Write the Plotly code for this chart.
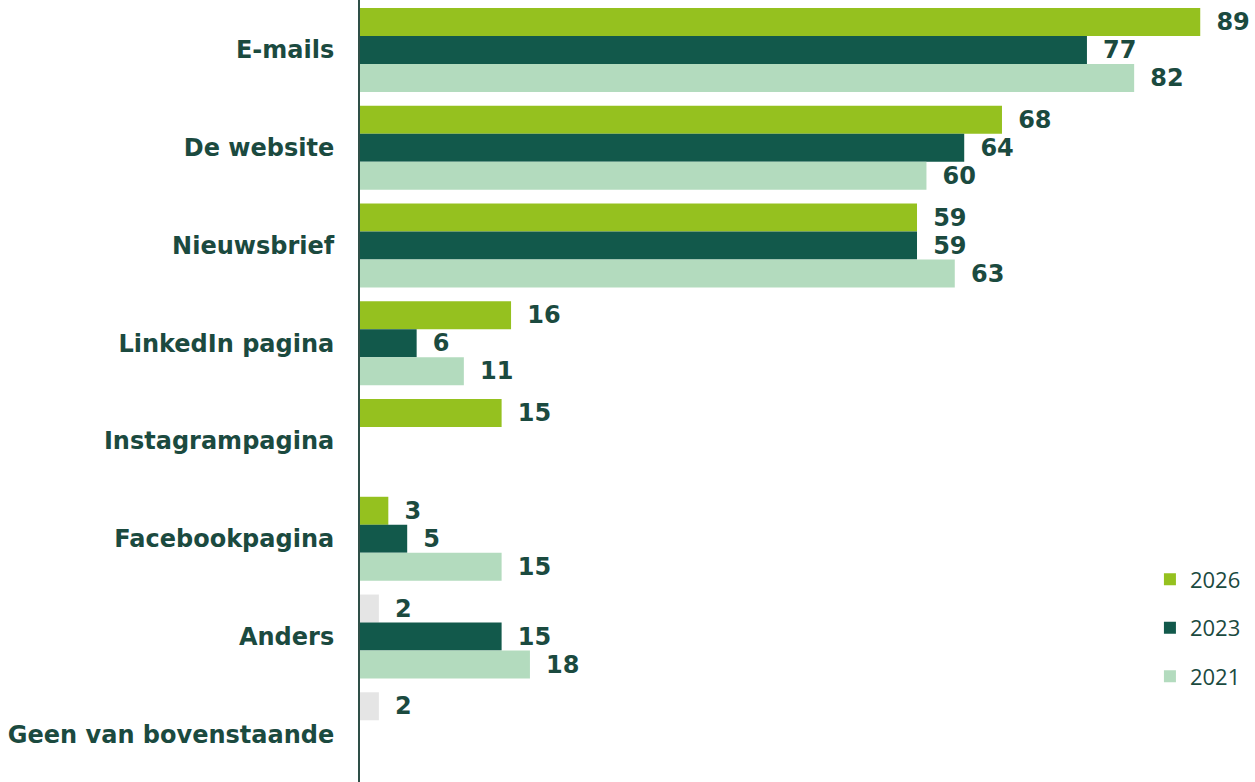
import plotly.graph_objects as go

categories = ["E-mails", "De website", "Nieuwsbrief", "LinkedIn pagina",
              "Instagrampagina", "Facebookpagina", "Anders", "Geen van bovenstaande"]
years = ["2026", "2023", "2021"]
v2026 = [89, 68, 59, 16, 15, 3, 2, 2]
v2023 = [77, 64, 59, 6, None, 5, 15, None]
v2021 = [82, 60, 63, 11, None, 15, 18, None]

green = "#95c11f"
dark = "#12594b"
light = "#b3dbbe"
grey = "#e5e5e5"
txt = "#1b4a3f"

# last two 2026 bars are shown in grey in the original
colors_2026 = [green] * 6 + [grey] * 2

series = [
    (years[0], v2026, colors_2026),
    (years[1], v2023, dark),
    (years[2], v2021, light),
]

fig = go.Figure()
for name, vals, col in series:
    fig.add_trace(go.Bar(
        y=categories, x=vals, name=name, orientation="h",
        marker=dict(color=col, line=dict(width=0)),
        text=vals, texttemplate="\u00a0\u2009%{x}", textposition="outside",
        constraintext="none",
        textfont=dict(family="DejaVu Sans", size=24, color=txt, weight="bold"),
        cliponaxis=False, legendgroup=name,
    ))

fig.update_layout(
    width=1255, height=782,
    barmode="group", bargap=0.14, bargroupgap=0,
    plot_bgcolor="white", paper_bgcolor="white",
    margin=dict(l=360, r=0, t=0, b=0, autoexpand=False),
    legend=dict(x=0.8826, y=0.286, xanchor="left", yanchor="top",
                font=dict(family="Open Sans", size=22, color=txt),
                tracegroupgap=17, bgcolor="rgba(0,0,0,0)"),
    xaxis=dict(range=[0, 94.8], visible=False, fixedrange=True),
    yaxis=dict(range=[7.488, -0.512],
               showline=True, linecolor="#2e4f47", linewidth=2,
               showgrid=False, ticks="", ticklabelstandoff=19,
               tickfont=dict(family="DejaVu Sans", size=24, color=txt, weight="bold")),
)

# drop the default 8px body margin so the figure fills the window exactly
fig.write_html("out.html", config={"displayModeBar": False},
               post_script="document.body.style.margin='0';document.body.style.overflow='hidden';")
